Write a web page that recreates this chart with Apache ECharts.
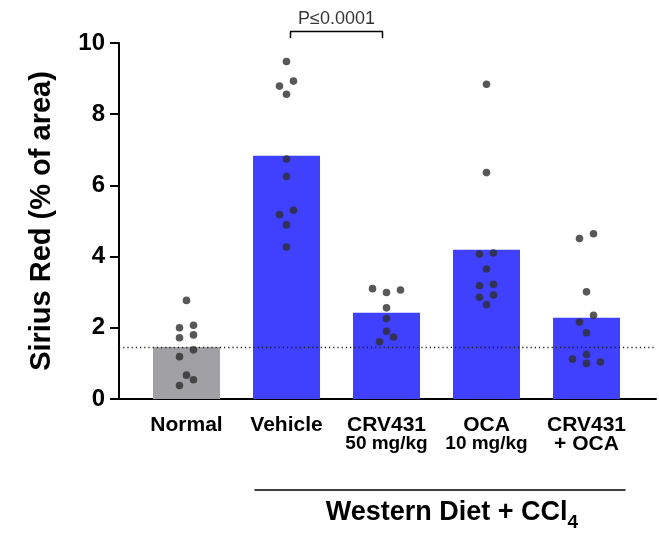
<!DOCTYPE html>
<html>
<head>
<meta charset="utf-8">
<script src="https://cdn.jsdelivr.net/npm/echarts@6/dist/echarts.min.js"></script>
<style>
  html, body { margin: 0; padding: 0; background: #fff; }
  #chart { width: 659px; height: 533px; }
</style>
</head>
<body>
<div id="chart"></div>
<script>
// Group labels: first line is the treatment, optional second line the dose / combination
const categories = ['Normal', 'Vehicle', 'CRV431\n50 mg/kg', 'OCA\n10 mg/kg', 'CRV431\n+ OCA'];

// Group means (bar heights), % of area stained with Sirius Red
const barMeans = [1.46, 6.83, 2.42, 4.19, 2.28];

// Individual animals per group
const normalPts  = [2.77, 2.00, 2.07, 1.72, 1.80, 1.38, 1.19, 0.67, 0.54, 0.38];
const vehiclePts = [9.48, 8.79, 8.93, 8.56, 6.74, 6.25, 5.18, 5.30, 4.89, 4.27];
const crvPts     = [3.10, 2.99, 3.06, 2.56, 2.26, 1.90, 1.74, 1.61];
const ocaPts     = [8.84, 6.36, 4.07, 4.10, 3.65, 3.22, 3.18, 2.92, 2.86, 2.65];
const comboPts   = [4.64, 4.51, 3.01, 2.35, 2.16, 1.86, 1.25, 1.12, 1.04, 1.00];
const groupPoints = [normalPts, vehiclePts, crvPts, ocaPts, comboPts];

// Value axis ticks
const yMin = 0, yMax = 10, yStep = 2;

// Significance annotation between Vehicle and CRV431 50 mg/kg
const compareFrom = 1, compareTo = 2;
const pValueText = 'P\u22640.0001';

// Bracket under the diet-induced groups
const dietLabel = 'Western Diet + CCl';
const dietSub = '4';

// ---- layout ----
const FONT = '"Liberation Sans", Arial, Helvetica, sans-serif';
const plot = { left: 119, top: 43, width: 537, height: 356 };
const band = { left: 136.5, width: 500 };
const pxPerUnit = plot.height / (yMax - yMin);
const pxPerCat = band.width / categories.length;
const LANE = 14;      // horizontal spacing between side-by-side dots, px
const ROW_TOL = 7;    // dots closer than this vertically share a row, px

// Simple row-based swarm: dots that would overlap are spread sideways
function swarmOffsets(vals) {
  const order = vals.map((v, i) => i).sort((a, b) => vals[a] - vals[b]);
  const rows = [];
  let row = null;
  for (const i of order) {
    if (row && (vals[i] - vals[row[0]]) * pxPerUnit <= ROW_TOL) row.push(i);
    else { row = [i]; rows.push(row); }
  }
  const off = new Array(vals.length).fill(0);
  rows.forEach(r => {
    if (r.length === 3) { off[r[0]] = 0; off[r[1]] = LANE; off[r[2]] = -LANE; }
    else r.forEach((i, k) => { off[i] = (k - (r.length - 1) / 2) * LANE; });
  });
  return off;
}

const dots = [];
groupPoints.forEach((vals, g) => {
  const off = swarmOffsets(vals);
  vals.forEach((v, i) => dots.push([g + off[i] / pxPerCat, v]));
});

const bracketLow = 10.14, bracketHigh = 10.32, bracketInset = 0.04;
const bracket = [
  [compareFrom + bracketInset, bracketLow],
  [compareFrom + bracketInset, bracketHigh],
  [compareTo - bracketInset, bracketHigh],
  [compareTo - bracketInset, bracketLow]
];

const chart = echarts.init(document.getElementById('chart'), null, { renderer: 'canvas' });

chart.setOption({
  animation: false,
  backgroundColor: '#fff',
  textStyle: { fontFamily: FONT },
  grid: [
    { left: plot.left, top: plot.top, width: plot.width, height: plot.height },
    { left: band.left, top: plot.top, width: band.width, height: plot.height },
    { left: 255, top: 489, width: 370, height: 1 }
  ],
  xAxis: [
    { // frame axis spanning the full plot
      gridIndex: 0, type: 'value', min: 0, max: 1,
      axisLine: { show: true, lineStyle: { color: '#000', width: 2 } },
      axisTick: { show: false }, axisLabel: { show: false }, splitLine: { show: false }
    },
    { // group labels
      gridIndex: 1, type: 'category', data: categories,
      axisLine: { show: false }, axisTick: { show: false }, splitLine: { show: false },
      axisLabel: {
        interval: 0, margin: 16, color: '#000',
        formatter: (v) => {
          const parts = v.split('\n');
          let s = '{main|' + parts[0] + '}';
          if (parts[1]) s += '\n{' + (parts[1].indexOf('mg') >= 0 ? 'dose' : 'combo') + '|' + parts[1] + '}';
          return s;
        },
        rich: {
          main:  { fontFamily: FONT, fontWeight: 'bold', fontSize: 21, lineHeight: 20, color: '#000' },
          dose:  { fontFamily: FONT, fontWeight: 'bold', fontSize: 19, lineHeight: 18, color: '#000' },
          combo: { fontFamily: FONT, fontWeight: 'bold', fontSize: 21, lineHeight: 18, color: '#000' }
        }
      }
    },
    { // continuous positions for dots and annotation
      gridIndex: 1, type: 'value', min: -0.5, max: categories.length - 0.5, show: false
    },
    { // diet bracket
      gridIndex: 2, type: 'value', min: 0, max: 1,
      axisLine: { show: true, lineStyle: { color: '#000', width: 1.5 } },
      axisTick: { show: false }, axisLabel: { show: false }, splitLine: { show: false },
      name: '{t|' + dietLabel + '}{s|' + dietSub + '}',
      nameLocation: 'middle', nameGap: 10,
      nameTextStyle: {
        padding: [0, 0, 0, 24],
        rich: {
          t: { fontFamily: FONT, fontWeight: 'bold', fontSize: 27, lineHeight: 27, color: '#000' },
          s: { fontFamily: FONT, fontWeight: 'bold', fontSize: 19, lineHeight: 6, padding: [21, 0, 0, 0], color: '#000' }
        }
      }
    }
  ],
  yAxis: [
    {
      gridIndex: 0, type: 'value', min: yMin, max: yMax, interval: yStep,
      name: 'Sirius Red (% of area)', nameLocation: 'middle', nameGap: 63, nameRotate: 90,
      nameTextStyle: { fontFamily: FONT, fontWeight: 'bold', fontSize: 29, color: '#000' },
      axisLine: { show: true, lineStyle: { color: '#000', width: 2 } },
      axisTick: { show: true, length: 9, lineStyle: { color: '#000', width: 2 } },
      axisLabel: { margin: 14, color: '#000', fontFamily: FONT, fontWeight: 'bold', fontSize: 24 },
      splitLine: { show: false }
    },
    { gridIndex: 1, type: 'value', min: yMin, max: yMax, show: false },
    { gridIndex: 2, type: 'value', min: 0, max: 1, show: false }
  ],
  series: [
    {
      type: 'bar', xAxisIndex: 1, yAxisIndex: 1, barWidth: 67, z: 2,
      data: barMeans.map((v, i) => ({
        value: v,
        itemStyle: { color: i === 0 ? '#A1A1A5' : '#4040FF' }
      }))
    },
    { // reference level at the Normal mean
      type: 'line', xAxisIndex: 0, yAxisIndex: 0, data: [], z: 3,
      markLine: {
        silent: true, symbol: ['none', 'none'], label: { show: false },
        lineStyle: { color: '#1a1a1a', type: [1.2, 3], width: 1.3 },
        data: [{ yAxis: barMeans[0] }]
      }
    },
    {
      type: 'scatter', xAxisIndex: 2, yAxisIndex: 1, z: 5,
      symbol: 'circle', symbolSize: 7.6,
      itemStyle: { color: '#2e2e2e' },
      data: dots
    },
    {
      type: 'line', xAxisIndex: 2, yAxisIndex: 1, clip: false, silent: true,
      symbol: 'none', lineStyle: { color: '#000', width: 1.5 },
      data: bracket
    },
    {
      type: 'scatter', xAxisIndex: 2, yAxisIndex: 1, clip: false, silent: true,
      symbolSize: 0,
      label: {
        show: true, position: 'top', distance: 4,
        formatter: pValueText, fontFamily: FONT, fontSize: 18, color: '#000'
      },
      data: [[(compareFrom + compareTo) / 2, bracketHigh]]
    }
  ]
});
</script>
</body>
</html>
